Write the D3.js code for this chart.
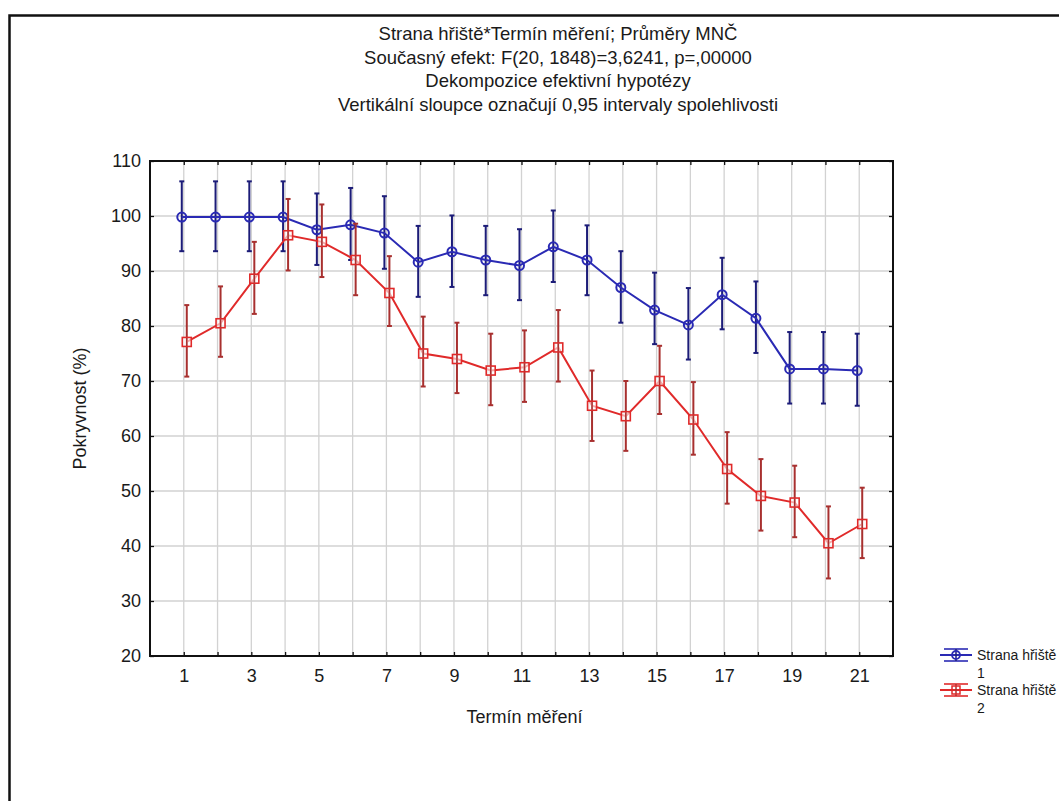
<!DOCTYPE html>
<html>
<head>
<meta charset="utf-8">
<script src="https://cdn.jsdelivr.net/npm/d3@7/dist/d3.min.js"></script>
<style>
  html, body { margin: 0; padding: 0; background: #fff; }
  svg { display: block; font-family: "Liberation Sans", Arial, sans-serif; }
</style>
</head>
<body>
<svg id="chart" width="1059" height="801"></svg>
<script>
// Measurement terms (x axis)
const terms = [1,2,3,4,5,6,7,8,9,10,11,12,13,14,15,16,17,18,19,20,21];
const xTickLabels = [1,3,5,7,9,11,13,15,17,19,21];
const yTicks = [20,30,40,50,60,70,80,90,100,110];

// Side 1: LS means and 0.95 confidence limits
const side1Mean  = [99.8,99.8,99.8,99.8,97.5,98.4,96.9,91.6,93.5,92.0,91.0,94.4,92.0,87.0,82.9,80.2,85.7,81.4,72.2,72.2,71.9];
const side1Lower = [93.6,93.6,93.6,93.6,91.1,92.0,90.4,85.3,87.1,85.6,84.7,88.0,85.6,80.6,76.7,73.9,79.4,75.1,65.9,65.9,65.5];
const side1Upper = [106.3,106.3,106.3,106.3,104.1,105.1,103.6,98.2,100.1,98.2,97.6,101.0,98.3,93.6,89.7,86.9,92.4,88.1,78.9,78.9,78.6];

// Side 2: LS means and 0.95 confidence limits
const side2Mean  = [77.1,80.5,88.6,96.5,95.3,92.0,86.0,75.0,74.0,71.9,72.5,76.1,65.5,63.6,70.0,63.0,54.0,49.1,47.9,40.5,44.0];
const side2Lower = [70.8,74.4,82.2,90.1,88.9,85.6,80.0,69.0,67.8,65.6,66.2,69.9,59.1,57.3,64.0,56.6,47.7,42.8,41.6,34.1,37.8];
const side2Upper = [83.8,87.2,95.3,103.1,102.1,98.6,92.7,81.7,80.6,78.6,79.2,82.9,71.9,70.0,76.4,69.8,60.7,55.8,54.6,47.2,50.6];

const titleLines = [
  "Strana hřiště*Termín měření; Průměry MNČ",
  "Současný efekt: F(20, 1848)=3,6241, p=,00000",
  "Dekompozice efektivní hypotézy",
  "Vertikální sloupce označují 0,95 intervaly spolehlivosti"
];
const seriesNames = ["Strana hřiště 1", "Strana hřiště 2"];

const svg = d3.select("#chart");
const plot = { left: 150, top: 161, right: 893, bottom: 656 };
const textColor = "#1a1a1a";

const x = d3.scaleLinear().domain([0, 22]).range([plot.left, plot.right]);
const y = d3.scaleLinear().domain([20, 110]).range([plot.bottom, plot.top]);

// outer frame
svg.append("rect")
  .attr("x", 9.5).attr("y", 15.5).attr("width", 1100).attr("height", 900)
  .attr("fill", "none").attr("stroke", "#111").attr("stroke-width", 2.5);

// title
svg.append("g").selectAll("text").data(titleLines).join("text")
  .attr("x", 558).attr("y", (d, i) => 40 + i * 23.5)
  .attr("text-anchor", "middle")
  .attr("font-size", 18.5).attr("fill", textColor)
  .text(d => d);

// grid
const grid = svg.append("g").attr("stroke", "#d2d2d2").attr("stroke-width", 1.3);
grid.selectAll("line.gx").data(terms).join("line")
  .attr("x1", d => x(d)).attr("x2", d => x(d))
  .attr("y1", plot.top).attr("y2", plot.bottom);
grid.selectAll("line.gy").data(yTicks.slice(1, -1)).join("line")
  .attr("x1", plot.left).attr("x2", plot.right)
  .attr("y1", d => y(d)).attr("y2", d => y(d));

// axes with inward ticks
const styleAxis = g => {
  g.select(".domain").remove();
  g.selectAll(".tick line").attr("stroke", "#111").attr("stroke-width", 1.3);
  g.selectAll(".tick text").attr("fill", textColor).attr("font-size", 18)
    .attr("font-family", "'Liberation Sans', Arial, sans-serif");
};
svg.append("g").attr("transform", `translate(0,${plot.bottom})`)
  .call(d3.axisBottom(x).tickValues(terms).tickSize(-4).tickPadding(13)
    .tickFormat(d => xTickLabels.includes(d) ? d : ""))
  .call(styleAxis);
svg.append("g").attr("transform", `translate(0,${plot.top})`)
  .call(d3.axisTop(x).tickValues(terms).tickSize(-4).tickFormat(""))
  .call(styleAxis);
svg.append("g").attr("transform", `translate(${plot.left},0)`)
  .call(d3.axisLeft(y).tickValues(yTicks).tickSize(-4).tickPadding(9))
  .call(styleAxis);
svg.append("g").attr("transform", `translate(${plot.right},0)`)
  .call(d3.axisRight(y).tickValues(yTicks).tickSize(-4).tickFormat(""))
  .call(styleAxis);

// plot frame
svg.append("rect")
  .attr("x", plot.left).attr("y", plot.top)
  .attr("width", plot.right - plot.left).attr("height", plot.bottom - plot.top)
  .attr("fill", "none").attr("stroke", "#111").attr("stroke-width", 2);

// axis titles
svg.append("text")
  .attr("transform", `translate(86,${(plot.top + plot.bottom) / 2}) rotate(-90)`)
  .attr("text-anchor", "middle").attr("font-size", 18).attr("fill", textColor)
  .text("Pokryvnost (%)");
svg.append("text")
  .attr("x", (plot.left + plot.right) / 2 + 3).attr("y", 723)
  .attr("text-anchor", "middle").attr("font-size", 18).attr("fill", textColor)
  .text("Termín měření");

// series
const series = [
  { mean: side1Mean, lo: side1Lower, hi: side1Upper, shift: -2,
    line: "#2a2ab4", bar: "#1c1c78", marker: "circle" },
  { mean: side2Mean, lo: side2Lower, hi: side2Upper, shift: 3,
    line: "#e02a2a", bar: "#a8302f", marker: "square" }
];

series.forEach(s => {
  const g = svg.append("g");
  const px = i => x(terms[i]) + s.shift;
  // error bars
  const eb = g.append("g").attr("stroke", s.bar).attr("stroke-width", 2);
  terms.forEach((t, i) => {
    eb.append("line").attr("x1", px(i)).attr("x2", px(i))
      .attr("y1", y(s.lo[i])).attr("y2", y(s.hi[i]));
    eb.append("line").attr("x1", px(i) - 2.5).attr("x2", px(i) + 2.5)
      .attr("y1", y(s.lo[i])).attr("y2", y(s.lo[i]));
    eb.append("line").attr("x1", px(i) - 2.5).attr("x2", px(i) + 2.5)
      .attr("y1", y(s.hi[i])).attr("y2", y(s.hi[i]));
  });
  // mean line
  g.append("path")
    .datum(terms.map((t, i) => [px(i), y(s.mean[i])]))
    .attr("d", d3.line())
    .attr("fill", "none").attr("stroke", s.line).attr("stroke-width", 2);
  // markers
  if (s.marker === "circle") {
    g.selectAll("circle").data(terms).join("circle")
      .attr("cx", (d, i) => px(i)).attr("cy", (d, i) => y(s.mean[i]))
      .attr("r", 4.5).attr("fill", "none").attr("stroke", s.line).attr("stroke-width", 2);
  } else {
    g.selectAll("rect").data(terms).join("rect")
      .attr("x", (d, i) => px(i) - 4.5).attr("y", (d, i) => y(s.mean[i]) - 4.5)
      .attr("width", 9).attr("height", 9)
      .attr("fill", "#fff").attr("fill-opacity", 0.6)
      .attr("stroke", s.line).attr("stroke-width", 1.6);
    g.selectAll("line.inner").data(terms).join("line")
      .attr("x1", (d, i) => px(i)).attr("x2", (d, i) => px(i))
      .attr("y1", (d, i) => y(s.mean[i]) - 4).attr("y2", (d, i) => y(s.mean[i]) + 4)
      .attr("stroke", s.bar).attr("stroke-width", 1.5);
  }
});

// legend
const legend = svg.append("g");
seriesNames.forEach((name, k) => {
  const s = series[k];
  const cy = 655 + k * 35;
  const cx = 956;
  const lg = legend.append("g");
  lg.append("line").attr("x1", cx - 16).attr("x2", cx + 16).attr("y1", cy).attr("y2", cy)
    .attr("stroke", s.line).attr("stroke-width", 2);
  lg.append("line").attr("x1", cx - 12).attr("x2", cx + 12).attr("y1", cy - 6).attr("y2", cy - 6)
    .attr("stroke", s.line).attr("stroke-width", 1.6);
  lg.append("line").attr("x1", cx - 12).attr("x2", cx + 12).attr("y1", cy + 6).attr("y2", cy + 6)
    .attr("stroke", s.line).attr("stroke-width", 1.6);
  lg.append("line").attr("x1", cx).attr("x2", cx).attr("y1", cy - 6).attr("y2", cy + 6)
    .attr("stroke", s.bar).attr("stroke-width", 1.5);
  if (s.marker === "circle") {
    lg.append("circle").attr("cx", cx).attr("cy", cy).attr("r", 4)
      .attr("fill", "none").attr("stroke", s.line).attr("stroke-width", 1.8);
  } else {
    lg.append("rect").attr("x", cx - 4).attr("y", cy - 4).attr("width", 8).attr("height", 8)
      .attr("fill", "none").attr("stroke", s.line).attr("stroke-width", 1.5);
  }
  const words = name.split(" ");
  const t = lg.append("text").attr("font-size", 14).attr("fill", textColor);
  t.append("tspan").attr("x", 977).attr("y", cy + 5).text(words.slice(0, -1).join(" "));
  t.append("tspan").attr("x", 977).attr("y", cy + 23).text(words[words.length - 1]);
});
</script>
</body>
</html>
